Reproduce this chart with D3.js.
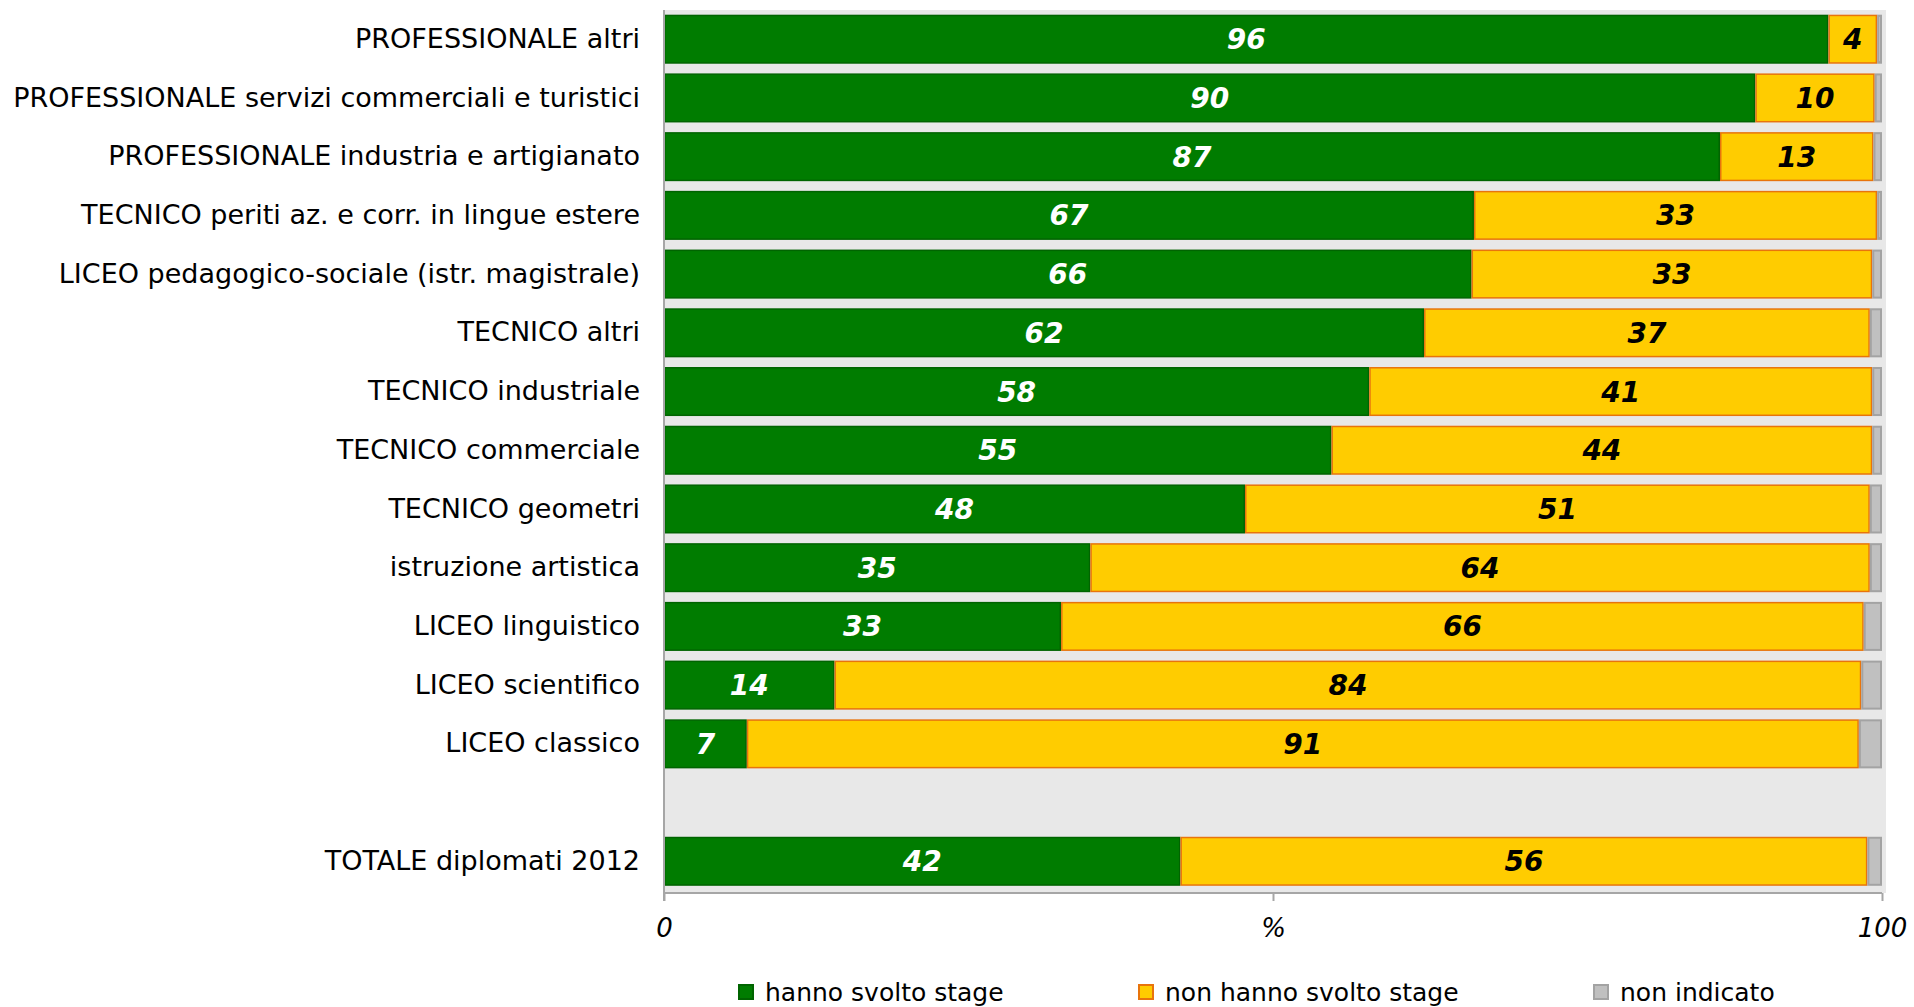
<!DOCTYPE html>
<html>
<head>
<meta charset="utf-8">
<script src="https://cdn.jsdelivr.net/npm/d3@7"></script>
<style>
  body { margin: 0; background: #fff; }
  svg { font-family: "DejaVu Sans", Verdana, sans-serif; }
</style>
</head>
<body>
<div id="chart"></div>
<script>
// categories top to bottom, then a blank slot and the total row
var categories = [
    "PROFESSIONALE altri ",
    "PROFESSIONALE servizi commerciali e turistici",
    "PROFESSIONALE industria e artigianato",
    "TECNICO periti az. e corr. in lingue estere",
    "LICEO pedagogico-sociale (istr. magistrale)",
    "TECNICO altri",
    "TECNICO industriale",
    "TECNICO commerciale",
    "TECNICO geometri",
    "istruzione artistica",
    "LICEO linguistico",
    "LICEO scientifico",
    "LICEO classico"
]
var totalLabel = "TOTALE diplomati 2012"

// % values, same order as categories, total last
var svolto    = [95.6, 89.6, 86.7, 66.5, 66.3, 62.4, 57.9, 54.8, 47.7, 35.0, 32.6, 14.0, 6.8, 42.4]
var nonSvolto = [4.0, 9.8, 12.6, 33.1, 32.9, 36.6, 41.3, 44.4, 51.3, 64.0, 65.9, 84.3, 91.3, 56.4]
var nonInd    = [0.4, 0.6, 0.7, 0.4, 0.8, 1.0, 0.8, 0.8, 1.0, 1.0, 1.5, 1.7, 1.9, 1.2]

var seriesNames = ["hanno svolto stage", "non hanno svolto stage", "non indicato"]
var xTicks = [0, 50, 100]
var xTickLabels = ["0", "%", "100"]

var W = 1914, H = 1007
var plotLeft = 664, plotRight = 1882, plotTop = 10, plotBottom = 893

var svg = d3.select("#chart").append("svg")
    .attr("width", W)
    .attr("height", H)

var rows = categories.concat([" ", totalLabel])
var rowValues = []
categories.forEach(function(c, i) {
    rowValues.push({ name: c, v: [svolto[i], nonSvolto[i], nonInd[i]] })
})
var t = categories.length
rowValues.push({ name: totalLabel, v: [svolto[t], nonSvolto[t], nonInd[t]] })

var x = d3.scaleLinear().domain([0, 100]).range([plotLeft, plotRight])
var y = d3.scaleBand().domain(rows).range([plotTop, plotBottom - 2.5])
    .paddingInner(0.165).paddingOuter(0.08)

var fills = ["#007c00", "#ffcc00", "#c0c0c0"]
var strokes = ["#006400", "#e8740c", "#a3a3a3"]
var strokeW = [1.5, 1.5, 2]
var labelColor = ["#ffffff", "#000000"]

// plot background
svg.append("rect")
    .attr("x", plotLeft - 1)
    .attr("y", plotTop)
    .attr("width", plotRight - plotLeft + 5)
    .attr("height", plotBottom - plotTop)
    .attr("fill", "#e8e8e8")

// bars
var row = svg.selectAll(".row")
    .data(rowValues)
    .enter().append("g")
    .attr("class", "row")
    .attr("transform", function(d) { return "translate(0," + y(d.name) + ")" })

row.each(function(d) {
    var g = d3.select(this)
    var cum = 0
    d.v.forEach(function(val, k) {
        var x0 = x(cum), x1 = x(cum + val)
        var sw = strokeW[k]
        g.append("rect")
            .attr("x", x0 + sw / 2)
            .attr("y", sw / 2)
            .attr("width", Math.max(0, x1 - x0 - sw))
            .attr("height", y.bandwidth() - sw)
            .attr("fill", fills[k])
            .attr("stroke", strokes[k])
            .attr("stroke-width", sw)
        if (k < 2) {
            g.append("text")
                .attr("x", (x0 + x1) / 2)
                .attr("y", y.bandwidth() / 2)
                .attr("dy", "0.36em")
                .attr("text-anchor", "middle")
                .attr("font-size", "28px")
                .attr("font-weight", "bold")
                .attr("font-style", "italic")
                .attr("fill", labelColor[k])
                .text(d3.format(".0f")(val))
        }
        cum += val
    })
})

// category labels
var yAxis = d3.axisLeft(y).tickSize(0).tickPadding(24)
var yg = svg.append("g")
    .attr("transform", "translate(" + plotLeft + ",0)")
    .call(yAxis)
yg.select(".domain").remove()
yg.selectAll("text")
    .attr("font-size", "27px")
    .attr("font-family", "DejaVu Sans, sans-serif")
    .attr("fill", "#000")

// left axis line
svg.append("line")
    .attr("x1", plotLeft).attr("x2", plotLeft)
    .attr("y1", plotTop).attr("y2", plotBottom + 8)
    .attr("stroke", "#a6a6a6")
    .attr("stroke-width", 2)

// bottom axis
var xAxis = d3.axisBottom(x).tickValues(xTicks).tickSize(8)
    .tickFormat(function(d, i) { return xTickLabels[i] })
var xg = svg.append("g")
    .attr("transform", "translate(0," + plotBottom + ")")
    .call(xAxis)
xg.select(".domain").attr("stroke", "#a6a6a6").attr("stroke-width", 2)
    .attr("d", "M" + plotLeft + ",0H" + plotRight)
xg.selectAll(".tick line").attr("stroke", "#a6a6a6").attr("stroke-width", 2)
xg.selectAll(".tick text")
    .attr("y", 26)
    .attr("dy", "0.71em")
    .attr("font-size", "26px")
    .attr("font-style", "italic")
    .attr("font-family", "DejaVu Sans, sans-serif")
    .attr("fill", "#000")

// legend
var legendX = [738, 1138, 1593]
var legend = svg.selectAll(".legend")
    .data(seriesNames)
    .enter().append("g")
    .attr("class", "legend")
    .attr("transform", function(d, i) { return "translate(" + legendX[i] + ",984)" })

legend.append("rect")
    .attr("x", 1).attr("y", 1)
    .attr("width", 14).attr("height", 14)
    .attr("fill", function(d, i) { return fills[i] })
    .attr("stroke", function(d, i) { return strokes[i] })
    .attr("stroke-width", 2)

legend.append("text")
    .attr("x", 27)
    .attr("y", 8)
    .attr("dy", "0.36em")
    .attr("font-size", "25px")
    .text(function(d) { return d })
</script>
</body>
</html>
